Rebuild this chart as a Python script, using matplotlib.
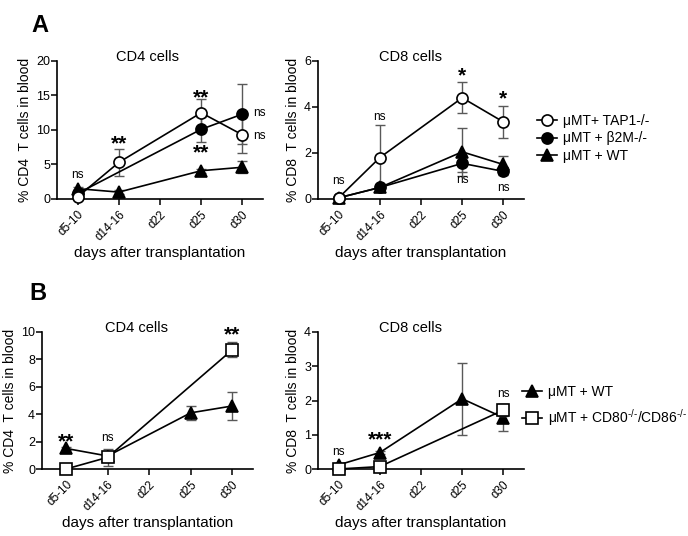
import matplotlib
matplotlib.use("Agg")
import matplotlib.pyplot as plt
import numpy as np

plt.rcParams['font.family'] = ['Liberation Sans', 'DejaVu Sans']
plt.rcParams['mathtext.fontset'] = 'custom'
plt.rcParams['mathtext.rm'] = 'Liberation Sans'

days = ["d5-10", "d14-16", "d22", "d25", "d30"]
x_full = [0, 1, 3, 4]          # indices of days with data
x_b2m_cd4 = [0, 3, 4]
x_ko = [0, 1, 4]

# Panel A, CD4
a4_tap1 = [0.3, 5.3, 12.5, 9.3]
a4_tap1_err = [0.2, 2.0, 2.0, 2.7]
a4_b2m = [0.8, 10.1, 12.3]
a4_b2m_err = [0.3, 1.8, 4.4]
a4_wt = [1.5, 1.0, 4.1, 4.6]
a4_wt_err = [0.3, 0.3, 0.3, 0.9]

# Panel A, CD8
a8_tap1 = [0.05, 1.8, 4.4, 3.35]
a8_tap1_err = [0.05, 1.42, 0.67, 0.7]
a8_b2m = [0.05, 0.5, 1.55, 1.2]
a8_b2m_err = [0.03, 0.1, 0.38, 0.17]
a8_wt = [0.05, 0.5, 2.05, 1.5]
a8_wt_err = [0.03, 0.08, 1.05, 0.38]

# Panel B, CD4
b4_wt = [1.5, 0.95, 4.1, 4.6]
b4_wt_err = [0.1, 0.3, 0.5, 1.0]
b4_ko = [0.0, 0.85, 8.7]
b4_ko_err = [0.05, 0.6, 0.55]

# Panel B, CD8
b8_wt = [0.12, 0.48, 2.05, 1.5]
b8_wt_err = [0.05, 0.05, 1.05, 0.4]
b8_ko = [0.0, 0.07, 1.72]
b8_ko_err = [0.02, 0.03, 0.17]

lab_tap1 = "\u03bcMT+ TAP1-/-"
lab_b2m = "\u03bcMT + \u03b22M-/-"
lab_wt = "\u03bcMT + WT"
lab_ko = "\u03bcMT + CD80$^{\\text{-/-}}$/CD86$^{\\text{-/-}}$"

W, H = 688, 536
fig = plt.figure(figsize=(W / 100, H / 100), dpi=100)


def make_ax(l, r, t, b):
    return fig.add_axes([l / W, 1 - b / H, (r - l) / W, (b - t) / H])


axA4 = make_ax(57, 263, 61, 199)
axA8 = make_ax(318, 524, 61, 199)
axB4 = make_ax(42, 253, 332, 469)
axB8 = make_ax(318, 524, 332, 469)

ms = 8


def series(ax, x, y, err, marker, face, ecol='0.35', z=3):
    ax.errorbar(x, y, yerr=err, fmt='none', ecolor=ecol, elinewidth=1.0,
                capsize=3.5, capthick=1.0, zorder=z - 1, clip_on=False)
    line, = ax.plot(x, y, color='black', lw=1.2, marker=marker, ms=ms,
                    mfc=face, mec='black', mew=1.2, zorder=z, clip_on=False)
    return line


def style(ax, ylim, yticks, ylabel, title, title_x, xlim=(-0.5, 4.5)):
    ax.set_xlim(*xlim)
    ax.set_ylim(*ylim)
    ax.set_yticks(yticks)
    ax.set_xticks(range(len(days)))
    ax.set_xticklabels(days, rotation=45, ha='right', rotation_mode='anchor',
                       fontsize=8.5)
    ax.tick_params(axis='y', labelsize=9, width=1.1, length=4, pad=1)
    ax.tick_params(axis='x', width=1.1, length=4, pad=3)
    for s in ['top', 'right']:
        ax.spines[s].set_visible(False)
    for s in ['left', 'bottom']:
        ax.spines[s].set_linewidth(1.2)
    ax.set_ylabel(ylabel, fontsize=10, labelpad=3)
    ax.set_xlabel("days after transplantation", fontsize=11)
    ax.xaxis.set_label_coords(0.5, -0.34)
    ax.text(title_x, 1.03, title, transform=ax.transAxes, ha='center',
            va='center', fontsize=10.5)


def stars(ax, x, y, s, size=None, **kw):
    if set(s) == {'*'}:
        ax.text(x, y, s, ha='center', va='center', fontsize=size or 15,
                fontweight='bold', clip_on=False, **kw)
    else:
        ax.text(x, y, s, ha=kw.pop('ha', 'center'), va='center',
                fontsize=size or 8.5, clip_on=False, **kw)


# ---- A CD4
l_tap1 = series(axA4, x_full, a4_tap1, a4_tap1_err, 'o', 'white', z=5)
l_b2m = series(axA4, x_b2m_cd4, a4_b2m, a4_b2m_err, 'o', 'black', z=4)
l_wt = series(axA4, x_full, a4_wt, a4_wt_err, '^', 'black', z=3)
style(axA4, (0, 20), [0, 5, 10, 15, 20], "% CD4  T cells in blood",
      "CD4 cells", 0.44)
stars(axA4, 0, 3.5, "ns")
stars(axA4, 1, 8.0, "**")
stars(axA4, 3, 14.7, "**")
stars(axA4, 3, 6.7, "**")
stars(axA4, 4.25, 12.4, "ns", ha='left')
stars(axA4, 4.25, 9.2, "ns", ha='left')

# ---- A CD8
series(axA8, x_full, a8_tap1, a8_tap1_err, 'o', 'white', z=5)
series(axA8, x_full, a8_b2m, a8_b2m_err, 'o', 'black', z=4)
series(axA8, x_full, a8_wt, a8_wt_err, '^', 'black', z=3)
style(axA8, (0, 6), [0, 2, 4, 6], "% CD8  T cells in blood",
      "CD8 cells", 0.45)
stars(axA8, 0, 0.78, "ns")
stars(axA8, 1, 3.57, "ns")
stars(axA8, 3, 5.35, "*")
stars(axA8, 4, 4.35, "*")
stars(axA8, 3, 0.83, "ns")
stars(axA8, 4, 0.48, "ns")

fig.legend([l_tap1, l_b2m, l_wt], [lab_tap1, lab_b2m, lab_wt],
           loc='upper left', bbox_to_anchor=(537 / W, 1 - 114 / H),
           frameon=False, fontsize=10, handlelength=1.45, handletextpad=0.45,
           labelspacing=0.25, borderpad=0, borderaxespad=0)

# ---- B CD4
l_wt_b = series(axB4, x_full, b4_wt, b4_wt_err, '^', 'black', z=3)
l_ko = series(axB4, x_ko, b4_ko, b4_ko_err, 's', 'white', z=4)
style(axB4, (0, 10), [0, 2, 4, 6, 8, 10], "% CD4  T cells in blood",
      "CD4 cells", 0.45, xlim=(-0.58, 4.5))
stars(axB4, 0, 2.0, "**")
stars(axB4, 1, 2.26, "ns")
stars(axB4, 4, 9.8, "**")

# ---- B CD8
series(axB8, x_full, b8_wt, b8_wt_err, '^', 'black', z=3)
series(axB8, x_ko, b8_ko, b8_ko_err, 's', 'white', z=4)
style(axB8, (0, 4), [0, 1, 2, 3, 4], "% CD8  T cells in blood",
      "CD8 cells", 0.45)
stars(axB8, 0, 0.5, "ns")
stars(axB8, 1, 0.85, "***")
stars(axB8, 4, 2.2, "ns")

fig.legend([l_wt_b, l_ko], [lab_wt, lab_ko],
           loc='upper left', bbox_to_anchor=(522 / W, 1 - 385 / H),
           frameon=False, fontsize=10, handlelength=1.45, handletextpad=0.45,
           labelspacing=0.6, borderpad=0, borderaxespad=0)

fig.text(40 / W, 1 - 25 / H, "A", fontsize=17, fontweight='bold',
         ha='center', va='center')
fig.text(38 / W, 1 - 293 / H, "B", fontsize=17, fontweight='bold',
         ha='center', va='center')

fig.savefig("out.png", dpi=100)
